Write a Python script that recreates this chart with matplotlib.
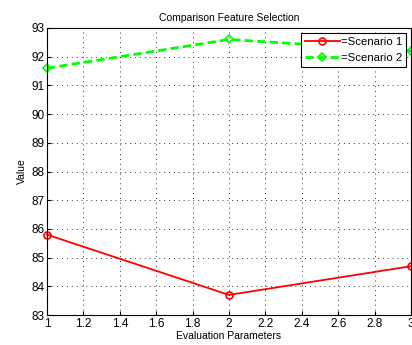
import numpy as np
import matplotlib.pyplot as plt

x = [1, 2, 3]
scenario1 = [85.8, 83.7, 84.7]
scenario2 = [91.6, 92.6, 92.2]
labels = ['=Scenario 1', '=Scenario 2']

plt.rcParams['font.family'] = ['Liberation Sans', 'DejaVu Sans']

fig = plt.figure(figsize=(4.12, 3.45), dpi=100)
ax = fig.add_axes([47/412, 1 - 315/345, 364/412, 287/345])

ax.plot(x, scenario1, '-o', color='red', lw=1.3, ms=5, mfc='none', mew=1.2,
        label=labels[0], clip_on=False)
ax.plot(x, scenario2, '--D', color='#00ff00', lw=2, ms=4.5, mfc='none', mew=1.2,
        label=labels[1], clip_on=False, dashes=(3, 1.5))

ax.set_xlim(1, 3)
ax.set_ylim(83, 93)
ax.set_xticks(np.arange(1, 3.01, 0.2))
ax.set_xticklabels(['1', '1.2', '1.4', '1.6', '1.8', '2', '2.2', '2.4', '2.6', '2.8', '3'])
ax.set_yticks(range(83, 94))
ax.tick_params(labelsize=8.5, direction='in', length=3, pad=2)
ax.grid(True, linestyle=(0, (1, 4)), color='#333333', lw=0.7)
for s in ax.spines.values():
    s.set_linewidth(0.8)

ax.set_title('Comparison Feature Selection', fontsize=7.5, pad=5)
ax.set_xlabel('Evaluation Parameters', fontsize=7.5, labelpad=1)
ax.set_ylabel('Value', fontsize=7.5, labelpad=3)

leg = ax.legend(loc='upper right', fontsize=8.2, fancybox=False, framealpha=1,
                edgecolor='black', borderaxespad=0.4, handlelength=3.0,
                handletextpad=0.1, borderpad=0.4, labelspacing=0.5)
leg.get_frame().set_linewidth(0.8)

fig.savefig('out.png', dpi=100)
